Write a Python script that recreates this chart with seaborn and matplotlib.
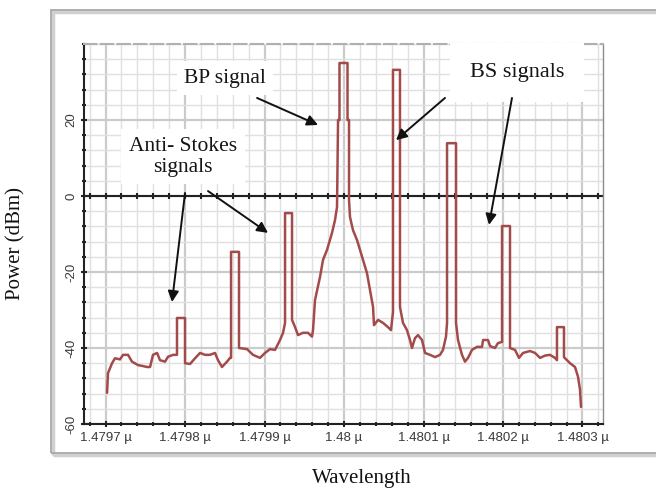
import matplotlib
matplotlib.use("Agg")
import matplotlib.pyplot as plt
import numpy as np
import pandas as pd
import seaborn as sns
from matplotlib.patches import Rectangle
from matplotlib.ticker import AutoMinorLocator, FixedLocator

# spectrum trace (wavelength in um, power in dBm)
wavelength_um = [
    1.4797019, 1.4797031, 1.4797082, 1.4797119, 1.4797182, 1.4797220, 1.4797283, 1.4797333,
    1.4797409, 1.4797459, 1.4797522, 1.4797560, 1.4797597, 1.4797648, 1.4797685, 1.4797748,
    1.4797786, 1.4797849, 1.4797899, 1.4797899, 1.4798000, 1.4798000, 1.4798063, 1.4798126,
    1.4798189, 1.4798252, 1.4798314, 1.4798377, 1.4798415, 1.4798465, 1.4798528, 1.4798566,
    1.4798579, 1.4798579, 1.4798679, 1.4798679, 1.4798780, 1.4798855, 1.4798943, 1.4799006,
    1.4799069, 1.4799132, 1.4799195, 1.4799233, 1.4799258, 1.4799258, 1.4799346, 1.4799346,
    1.4799384, 1.4799421, 1.4799484, 1.4799547, 1.4799597, 1.4799610, 1.4799635, 1.4799698,
    1.4799736, 1.4799786, 1.4799849, 1.4799887, 1.4799912, 1.4799925, 1.4799943, 1.4799943,
    1.4800044, 1.4800044, 1.4800063, 1.4800063, 1.4800075, 1.4800113, 1.4800164, 1.4800201,
    1.4800239, 1.4800289, 1.4800327, 1.4800365, 1.4800377, 1.4800428, 1.4800491, 1.4800553,
    1.4800591, 1.4800616, 1.4800616, 1.4800704, 1.4800704, 1.4800742, 1.4800792, 1.4800830,
    1.4800855, 1.4800893, 1.4800931, 1.4800981, 1.4801019, 1.4801082, 1.4801145, 1.4801208,
    1.4801245, 1.4801283, 1.4801296, 1.4801296, 1.4801409, 1.4801409, 1.4801434, 1.4801484,
    1.4801522, 1.4801560, 1.4801610, 1.4801673, 1.4801736, 1.4801749, 1.4801811, 1.4801837,
    1.4801899, 1.4801937, 1.4801988, 1.4801988, 1.4802088, 1.4802088, 1.4802151, 1.4802201,
    1.4802252, 1.4802340, 1.4802403, 1.4802466, 1.4802528, 1.4802591, 1.4802654, 1.4802679,
    1.4802679, 1.4802767, 1.4802767, 1.4802843, 1.4802906, 1.4802944, 1.4802969, 1.4802981,
]
power_dbm = [
    -51.8, -46.6, -44.0, -42.7, -43.0, -41.8, -41.8, -43.6,
    -44.5, -44.7, -45.0, -45.0, -41.8, -41.3, -43.2, -43.6,
    -42.3, -41.8, -41.8, -32.1, -32.1, -44.0, -44.2, -42.7,
    -41.3, -41.8, -41.8, -41.3, -43.2, -45.0, -43.6, -42.6,
    -42.6, -14.7, -14.7, -40.0, -40.3, -41.8, -42.6, -41.3,
    -40.3, -40.5, -37.9, -36.0, -33.4, -4.5, -4.5, -32.6,
    -34.5, -36.6, -36.0, -36.0, -37.0, -35.3, -27.4, -21.3,
    -16.8, -14.2, -9.7, -6.3, -2.9, 20.0, 20.0, 35.0,
    35.0, 20.0, 20.0, -1.0, -5.5, -9.0, -11.6, -14.2,
    -16.8, -20.3, -24.7, -29.2, -34.0, -32.6, -33.4, -34.5,
    -35.3, -30.5, 33.2, 33.2, -29.2, -33.4, -35.3, -37.9,
    -40.0, -37.4, -36.6, -37.9, -41.3, -41.8, -42.4, -41.8,
    -40.5, -37.0, -33.4, 13.9, 13.9, -33.4, -37.9, -41.8,
    -43.6, -42.6, -40.5, -39.7, -39.7, -37.9, -37.9, -39.5,
    -40.0, -38.7, -38.4, -7.9, -7.9, -40.0, -40.5, -42.6,
    -41.3, -40.8, -41.3, -42.6, -42.0, -41.8, -42.6, -43.2,
    -34.5, -34.5, -42.4, -44.0, -45.0, -47.6, -51.0, -55.5,
]

wavelength_ticks = [1.4797, 1.4798, 1.4799, 1.48, 1.4801, 1.4802, 1.4803]
power_ticks = [-60, -40, -20, 0, 20]

df = pd.DataFrame({"Wavelength": wavelength_um, "Power": power_dbm})

sns.set_theme(style="white")
plt.rcParams["font.family"] = ["Liberation Sans", "DejaVu Sans"]

W, H = 656, 490
fig = plt.figure(figsize=(W / 100, H / 100), dpi=100)
ax = fig.add_axes([84 / W, 1 - 424 / H, (603 - 84) / W, (424 - 44) / H])

# outer frame of the screenshot
fig.patches.append(Rectangle((53 / W, 1 - 455 / H), (660 - 53) / W, (455 - 12) / H,
                             transform=fig.transFigure, fill=False, ec="#d0d0d0", lw=2.5))
fig.patches.append(Rectangle((51 / W, 1 - 453 / H), (660 - 51) / W, (453 - 10) / H,
                             transform=fig.transFigure, fill=False, ec="#a8a8a8", lw=1.3))

sns.lineplot(data=df, x="Wavelength", y="Power", sort=False, estimator=None,
             color="#a34b4b", lw=1.8, ax=ax, zorder=5)

ax.set_xlim(1.4796729, 1.4803258)
ax.set_ylim(-60, 40)
ax.xaxis.set_major_locator(FixedLocator(wavelength_ticks))
ax.yaxis.set_major_locator(FixedLocator(power_ticks))
ax.xaxis.set_minor_locator(AutoMinorLocator(5))
ax.yaxis.set_minor_locator(AutoMinorLocator(5))
ax.set_xticklabels([f"{v:g} \u00b5" for v in wavelength_ticks])
ax.set_yticklabels([str(v) for v in power_ticks], rotation=90, va="center")

ax.grid(which="major", color="#cbcbcb", lw=1.6, zorder=0)
ax.grid(which="minor", color="#e0e0e0", lw=1.0, zorder=0)
ax.set_axisbelow(True)

for side in ["left", "bottom"]:
    ax.spines[side].set_color("#222222")
    ax.spines[side].set_linewidth(1.5)
ax.spines["right"].set_color("#8c8c8c")
ax.spines["right"].set_linewidth(1.0)
ax.spines["top"].set_color("#b0b0b0")
ax.spines["top"].set_linewidth(1.5)
ax.spines["top"].set_linestyle((0, (6, 2)))

ax.tick_params(which="both", direction="inout", color="#222222", width=1.5,
               left=True, bottom=True)
ax.tick_params(which="major", length=4)
ax.tick_params(which="minor", length=3.5)
ax.tick_params(axis="x", labelsize=9.5, labelcolor="#3a3a3a", pad=4)
ax.tick_params(axis="y", labelsize=9.5, labelcolor="#3a3a3a", pad=3)

# dark zero line, with tick marks at the axis tick positions
ax.axhline(0, color="#222222", lw=1.5, zorder=2)
tick_x = np.concatenate([ax.xaxis.get_majorticklocs(), ax.xaxis.get_minorticklocs()])
tick_x = tick_x[(tick_x > ax.get_xlim()[0]) & (tick_x < ax.get_xlim()[1])]
ax.plot(tick_x, np.zeros_like(tick_x), ls="none", marker="|", ms=4, mew=1.5,
        color="#222222", zorder=2)

serif = ["Liberation Serif", "DejaVu Serif"]
ax.set_xlabel("")
ax.set_ylabel("")
fig.text(362 / W, 1 - 478 / H, "Wavelength", family=serif, fontsize=15,
         ha="center", va="center", color="#111111")
fig.text(16 / W, 1 - 243 / H, "Power (dBm)", family=serif, fontsize=15,
         rotation=90, ha="center", va="center", color="#111111")

box = dict(boxstyle="square,pad=0.35", fc="white", ec="none")
ax.text(1.4798503, 31.05, "BP signal", family=serif, fontsize=15.5, ha="center",
        va="center", color="#151515", bbox=box, zorder=3)
ax.text(1.4797975, 10.3, "Anti- Stokes\nsignals", family=serif, fontsize=15.5,
        ha="center", va="center", color="#151515", linespacing=1.15, bbox=box, zorder=3)
ax.text(1.4802176, 32.4, "BS signals", family=serif, fontsize=16, ha="center",
        va="center", color="#151515",
        bbox=dict(boxstyle="square,pad=0.9", fc="white", ec="none"), zorder=3)

arrow = dict(arrowstyle="-|>", color="#111111", lw=1.4, mutation_scale=16,
             shrinkA=0, shrinkB=0)
arrows = [
    ((1.4798906, 25.8), (1.4799673, 18.7)),
    ((1.4798289, 1.3), (1.4799044, -9.7)),
    ((1.4798000, 0.8), (1.4797836, -27.9)),
    ((1.4801270, 25.8), (1.4800654, 14.7)),
    ((1.4802113, 25.8), (1.4801824, -7.6)),
]
for start, tip in arrows:
    ax.annotate("", xy=tip, xytext=start, arrowprops=arrow, zorder=6)

fig.savefig("out.png", dpi=100, facecolor="white")
